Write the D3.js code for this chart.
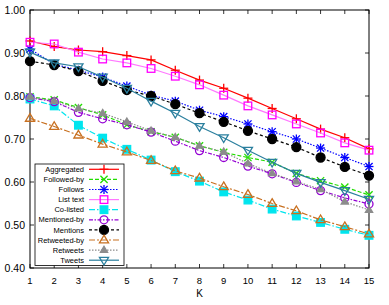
<!DOCTYPE html>
<html>
<head>
<meta charset="utf-8">
<script src="https://cdn.jsdelivr.net/npm/d3@7"></script>
<style>
  html, body { margin: 0; padding: 0; background: #fff; }
  svg { display: block; font-family: "Liberation Sans", Arial, sans-serif; }
</style>
</head>
<body>
<svg id="chart" width="389" height="305"></svg>
<script>
// K values on the x axis
const ks = d3.range(1, 16);

const aggregated  = [0.928, 0.915, 0.907, 0.903, 0.894, 0.884, 0.860, 0.837, 0.818, 0.795, 0.771, 0.747, 0.723, 0.703, 0.677];
const followedBy  = [0.798, 0.791, 0.773, 0.756, 0.733, 0.717, 0.704, 0.684, 0.669, 0.657, 0.646, 0.620, 0.603, 0.588, 0.570];
const follows     = [0.909, 0.874, 0.860, 0.844, 0.823, 0.802, 0.788, 0.767, 0.752, 0.735, 0.717, 0.700, 0.679, 0.657, 0.636];
const listText    = [0.925, 0.921, 0.902, 0.886, 0.877, 0.864, 0.846, 0.826, 0.802, 0.777, 0.756, 0.735, 0.714, 0.691, 0.674];
const coListed    = [0.793, 0.777, 0.732, 0.702, 0.676, 0.651, 0.624, 0.602, 0.577, 0.558, 0.537, 0.521, 0.506, 0.490, 0.476];
const mentionedBy = [0.796, 0.787, 0.762, 0.747, 0.733, 0.716, 0.695, 0.673, 0.657, 0.637, 0.619, 0.599, 0.580, 0.563, 0.549];
const mentions    = [0.881, 0.872, 0.858, 0.835, 0.814, 0.800, 0.781, 0.760, 0.740, 0.719, 0.700, 0.681, 0.657, 0.635, 0.615];
const retweetedBy = [0.748, 0.729, 0.709, 0.688, 0.670, 0.650, 0.626, 0.609, 0.589, 0.571, 0.550, 0.533, 0.512, 0.496, 0.479];
const retweets    = [0.798, 0.788, 0.771, 0.760, 0.740, 0.719, 0.704, 0.684, 0.670, 0.643, 0.620, 0.601, 0.583, 0.554, 0.535];
const tweets      = [0.902, 0.877, 0.868, 0.844, 0.818, 0.788, 0.760, 0.729, 0.703, 0.674, 0.646, 0.620, 0.599, 0.580, 0.560];

const yTicks = [0.4, 0.5, 0.6, 0.7, 0.8, 0.9, 1.0];

const series = [
  { name: "Aggregated",   values: aggregated,  color: "#ff0000", dash: null,            marker: "plus" },
  { name: "Followed-by",  values: followedBy,  color: "#22dd00", dash: "4,2",           marker: "cross" },
  { name: "Follows",      values: follows,     color: "#0000ff", dash: "1.5,1.5",       marker: "star" },
  { name: "List text",    values: listText,    color: "#ff00ff", dash: null,            marker: "square", lineColor: "#ff77ff" },
  { name: "Co-listed",    values: coListed,    color: "#00e5ee", dash: "6,2,1.5,2",     marker: "squareFilled" },
  { name: "Mentioned-by", values: mentionedBy, color: "#9400d3", dash: "4,1.5,1.5,1.5", marker: "circle" },
  { name: "Mentions",     values: mentions,    color: "#000000", dash: "3,2.5",         marker: "circleFilled" },
  { name: "Retweeted-by", values: retweetedBy, color: "#c87020", dash: "6,2,2,2",       marker: "triangle" },
  { name: "Retweets",     values: retweets,    color: "#8c8c8c", dash: "1.5,1.5",       marker: "triangleFilled" },
  { name: "Tweets",       values: tweets,      color: "#2a7f9e", dash: null,            marker: "triangleDown" },
];

const svg = d3.select("#chart");
const margin = { left: 30, right: 20, top: 10, bottom: 37 };
const W = 389, H = 305;

const x = d3.scaleLinear().domain([1, 15]).range([margin.left, W - margin.right]);
const y = d3.scaleLinear().domain([0.4, 1.0]).range([H - margin.bottom, margin.top]);

// draw one marker centred at (cx, cy)
function drawMarker(g, type, cx, cy, color) {
  const s = 4.5;
  const m = g.append("g").attr("transform", `translate(${cx},${cy})`);
  const line = (x1, y1, x2, y2) =>
    m.append("line").attr("x1", x1).attr("y1", y1).attr("x2", x2).attr("y2", y2)
      .attr("stroke", color).attr("stroke-width", 1.3);
  if (type === "plus" || type === "star") {
    line(-s, 0, s, 0);
    line(0, -s, 0, s);
  }
  if (type === "cross" || type === "star") {
    const d = s * 0.8;
    line(-d, -d, d, d);
    line(-d, d, d, -d);
  }
  if (type === "square" || type === "squareFilled") {
    m.append("rect").attr("x", -3.8).attr("y", -3.8).attr("width", 7.6).attr("height", 7.6)
      .attr("fill", type === "squareFilled" ? color : "#fff")
      .attr("fill-opacity", type === "squareFilled" ? 1 : 0)
      .attr("stroke", color).attr("stroke-width", 1.3);
  }
  if (type === "circle" || type === "circleFilled") {
    m.append("circle").attr("r", type === "circleFilled" ? 4.5 : 4)
      .attr("fill", type === "circleFilled" ? color : "none")
      .attr("stroke", color).attr("stroke-width", 1.3);
  }
  if (type === "triangle" || type === "triangleFilled" || type === "triangleDown") {
    const r = type === "triangleFilled" ? 3.8 : 4.8;
    const dir = type === "triangleDown" ? -1 : 1;
    const pts = [[0, -r * dir], [r * 0.95, r * 0.6 * dir], [-r * 0.95, r * 0.6 * dir]];
    m.append("path").attr("d", d3.line()(pts) + "Z")
      .attr("fill", type === "triangleFilled" ? color : "none")
      .attr("stroke", color).attr("stroke-width", 1.3);
  }
}

// axes frame
const x0 = x.range()[0], x1 = x.range()[1], yB = y.range()[0], yT = y.range()[1];
const tickLen = 4;

const axisG = svg.append("g").attr("font-size", 10.5).attr("fill", "#000");

yTicks.forEach((t) => {
  axisG.append("line").attr("x1", x0).attr("x2", x0 + tickLen).attr("y1", y(t)).attr("y2", y(t))
    .attr("stroke", "#000").attr("stroke-width", 0.8);
  axisG.append("line").attr("x1", x1).attr("x2", x1 - tickLen).attr("y1", y(t)).attr("y2", y(t))
    .attr("stroke", "#000").attr("stroke-width", 0.8);
  axisG.append("text").attr("x", x0 - 5).attr("y", y(t)).attr("dy", "0.35em")
    .attr("text-anchor", "end").text(d3.format(".2f")(t));
});

ks.forEach((k) => {
  axisG.append("line").attr("x1", x(k)).attr("x2", x(k)).attr("y1", yB).attr("y2", yB - tickLen)
    .attr("stroke", "#000").attr("stroke-width", 0.8);
  axisG.append("line").attr("x1", x(k)).attr("x2", x(k)).attr("y1", yT).attr("y2", yT + tickLen)
    .attr("stroke", "#000").attr("stroke-width", 0.8);
  axisG.append("text").attr("x", x(k)).attr("y", yB + 16)
    .attr("text-anchor", "middle").attr("font-size", 9.5).text(k);
});

axisG.append("text").attr("x", (x0 + x1) / 2).attr("y", H - 8)
  .attr("text-anchor", "middle").attr("font-size", 10).text("K");

svg.append("rect").attr("x", x0).attr("y", yT).attr("width", x1 - x0).attr("height", yB - yT)
  .attr("fill", "none").attr("stroke", "#000").attr("stroke-width", 1);

// series lines + markers
const lineGen = d3.line().x((d, i) => x(ks[i])).y((d) => y(d));
const plotG = svg.append("g");

series.forEach((s) => {
  plotG.append("path").attr("d", lineGen(s.values))
    .attr("fill", "none").attr("stroke", s.lineColor || s.color).attr("stroke-width", 1.2)
    .attr("stroke-dasharray", s.dash);
  s.values.forEach((v, i) => drawMarker(plotG, s.marker, x(ks[i]), y(v), s.color));
});

// legend
const lg = svg.append("g");
const lgX = 35, lgY = 164, lgW = 89, rowH = 10.1;
lg.append("rect").attr("x", lgX).attr("y", lgY).attr("width", lgW).attr("height", rowH * series.length + 0.5)
  .attr("fill", "#fff").attr("stroke", "#000").attr("stroke-width", 0.8);

series.forEach((s, i) => {
  const cy = lgY + 5.3 + i * rowH;
  lg.append("text").attr("x", 84).attr("y", cy).attr("dy", "0.35em")
    .attr("text-anchor", "end").attr("font-size", 7.5).text(s.name);
  lg.append("line").attr("x1", 89).attr("x2", 119).attr("y1", cy).attr("y2", cy)
    .attr("stroke", s.lineColor || s.color).attr("stroke-width", 1.2).attr("stroke-dasharray", s.dash);
  drawMarker(lg, s.marker, 104, cy, s.color);
});
</script>
</body>
</html>
